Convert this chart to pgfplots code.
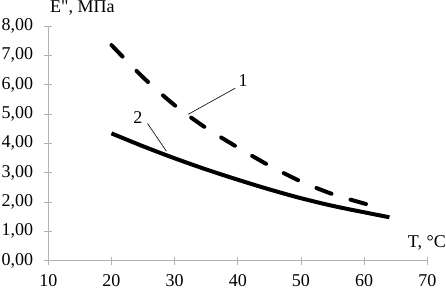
\documentclass[border=0pt]{standalone}
\usepackage{pgfplots}
\pgfplotsset{compat=1.18}
\usepackage{fontspec}
\setmainfont{Liberation Serif}
\newfontfamily\plainserif{Liberation Serif}
\begin{document}
\begin{tikzpicture}[font=\fontsize{18}{21}\selectfont]
\begin{axis}[
  scale only axis, width=379pt, height=234.7pt,
  xmin=10, xmax=70, ymin=0, ymax=8,
  axis x line=bottom, axis y line=left,
  axis line style={gray!60, -},
  xtick={10,20,...,70}, ytick={0,1,...,8},
  tick align=center, major tick length=8pt,
  tick style={gray!60, line width=0.6pt},
  every axis plot/.append style={black},
  /pgf/number format/assume math mode=true,
  ticklabel style={font=\fontsize{18}{21}\selectfont},
  yticklabel style={anchor=east, inner sep=0pt, xshift=-11pt, /pgf/number format/.cd, fixed, fixed zerofill, precision=2, use comma},
  xticklabel style={anchor=north, inner sep=0pt, yshift=-9.5pt, /pgf/number format/.cd, fixed, precision=0},
  clip=false,
]
\addplot[line width=4pt, dash pattern=on 16pt off 20pt, line cap=round, smooth] coordinates {
(20,7.35) (25,6.25) (30,5.30) (35,4.52) (40,3.86) (45,3.24) (50,2.70) (55,2.27) (60,1.95) (62,1.85)};
\addplot[line width=4pt, smooth] coordinates {
(20,4.34) (25,3.90) (30,3.49) (35,3.11) (40,2.76) (45,2.43) (50,2.13) (55,1.87) (60,1.65) (64,1.48)};
\draw[black, line width=0.6pt] (axis cs:39.6,5.88) -- (axis cs:32.15,4.99);
\node at (axis cs:40.85,6.15) {1};
\draw[black, line width=0.6pt] (axis cs:25.7,4.68) -- (axis cs:28.7,3.73);
\node at (axis cs:24.2,4.89) {2};
\node[anchor=base west, inner sep=0pt] at ([xshift=1.7pt,yshift=13pt]rel axis cs:0,1) {E{\plainserif"}, МПа};
\node[anchor=base east, inner sep=0pt] at ([xshift=18.7pt,yshift=13.5pt]rel axis cs:1,0) {T, °C};
\coordinate (sw) at (rel axis cs:0,0);
\coordinate (ne) at (rel axis cs:1,1);
\end{axis}
\pgfresetboundingbox
\path ([xshift=-48.3pt,yshift=-28.3pt]sw) rectangle ([xshift=18.7pt,yshift=26pt]ne);
\end{tikzpicture}
\end{document}
